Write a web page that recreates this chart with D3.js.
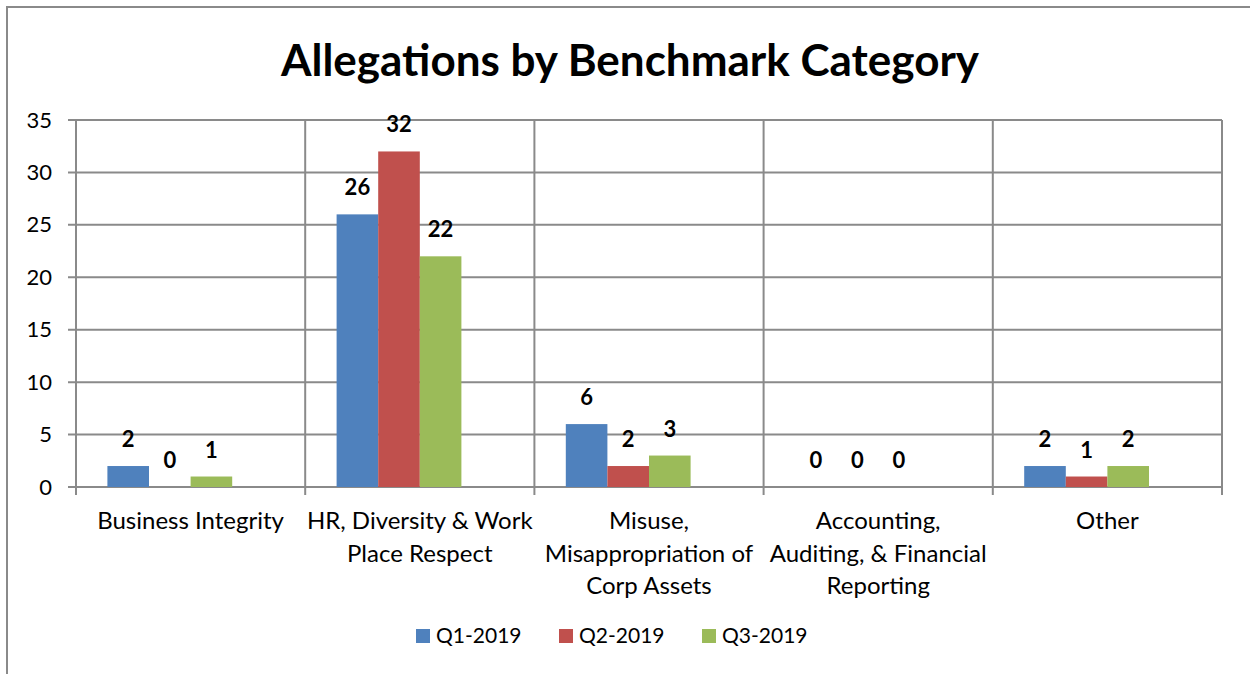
<!DOCTYPE html>
<html>
<head>
<meta charset="utf-8">
<title>Allegations by Benchmark Category</title>
<script src="https://cdn.jsdelivr.net/npm/d3@7"></script>
<style>
  body { margin: 0; background: #fff; }
  svg text { font-family: Lato, "Open Sans", sans-serif; fill: #000; }
</style>
</head>
<body>
<svg id="chart" width="1250" height="674"></svg>
<script>
// data
var categories = ['Business Integrity', 'HR, Diversity & Work Place Respect',
  'Misuse, Misappropriation of Corp Assets', 'Accounting, Auditing, & Financial Reporting', 'Other'];
var categoryLines = [
  ['Business Integrity'],
  ['HR, Diversity & Work', 'Place Respect'],
  ['Misuse,', 'Misappropriation of', 'Corp Assets'],
  ['Accounting,', 'Auditing, & Financial', 'Reporting'],
  ['Other']
];
var seriesNames = ['Q1-2019', 'Q2-2019', 'Q3-2019'];
var q1 = [2, 26, 6, 0, 2];
var q2 = [0, 32, 2, 0, 1];
var q3 = [1, 22, 3, 0, 2];
var yTicks = [0, 5, 10, 15, 20, 25, 30, 35];
var colors = ['#4f81bd', '#c0504d', '#9bbb59'];

var values = [q1, q2, q3];

var svg = d3.select('#chart');
var margin = { top: 120, right: 28, bottom: 187, left: 76 };
var width = 1250 - margin.left - margin.right,
    height = 674 - margin.top - margin.bottom;

// outer frame (top and left edges visible)
svg.append('path')
  .attr('d', 'M7,674 L7,7 L1250,7')
  .attr('fill', 'none')
  .attr('stroke', '#8a8a8a')
  .attr('stroke-width', 2);

svg.append('text')
  .attr('x', 630)
  .attr('y', 76)
  .attr('text-anchor', 'middle')
  .style('font-size', '44px')
  .style('font-weight', 'bold')
  .text('Allegations by Benchmark Category');

var g = svg.append('g').attr('transform', 'translate(' + margin.left + ',' + margin.top + ')');

var x0 = d3.scaleBand().domain(d3.range(categories.length)).range([0, width]);
// four slots per group: the chart keeps room for an empty fourth quarter
var x1 = d3.scaleBand().domain(d3.range(4))
  .range([x0.bandwidth() * 0.137, x0.bandwidth() * 0.863]);
var y = d3.scaleLinear().domain([0, 35]).range([height, 0]);

// horizontal gridlines
g.append('g')
  .selectAll('line')
  .data(yTicks)
  .join('line')
  .attr('x1', -8)
  .attr('x2', width)
  .attr('y1', function(d) { return y(d); })
  .attr('y2', function(d) { return y(d); })
  .attr('stroke', '#8a8a8a')
  .attr('stroke-width', 2);

// vertical gridlines / category separators
g.append('g')
  .selectAll('line')
  .data(d3.range(categories.length + 1))
  .join('line')
  .attr('x1', function(d) { return d * x0.bandwidth(); })
  .attr('x2', function(d) { return d * x0.bandwidth(); })
  .attr('y1', 0)
  .attr('y2', height + 8)
  .attr('stroke', '#8a8a8a')
  .attr('stroke-width', 2);

// y axis labels
var yAxis = g.append('g')
  .call(d3.axisLeft(y).tickValues(yTicks).tickSize(0).tickPadding(24));
yAxis.select('.domain').remove();
yAxis.selectAll('text')
  .style('font-size', '22px')
  .style('font-family', 'Lato, "Open Sans", sans-serif')
  .attr('fill', '#000');

// bars
var groups = g.append('g')
  .selectAll('g')
  .data(categories)
  .join('g')
  .attr('transform', function(d, i) { return 'translate(' + x0(i) + ',0)'; });

groups.selectAll('rect')
  .data(function(d, i) { return values.map(function(s, k) { return { k: k, v: s[i] }; }); })
  .join('rect')
  .attr('x', function(d) { return x1(d.k); })
  .attr('width', x1.bandwidth())
  .attr('y', function(d) { return y(d.v); })
  .attr('height', function(d) { return height - y(d.v); })
  .attr('fill', function(d) { return colors[d.k]; });

groups.selectAll('text')
  .data(function(d, i) { return values.map(function(s, k) { return { k: k, v: s[i] }; }); })
  .join('text')
  .attr('x', function(d) { return x1(d.k) + x1.bandwidth() / 2; })
  .attr('y', function(d) { return y(d.v) - 19; })
  .attr('text-anchor', 'middle')
  .style('font-size', '22px')
  .style('font-weight', 'bold')
  .text(function(d) { return d.v; });

// category labels
var catLabels = g.append('g')
  .selectAll('text')
  .data(categoryLines)
  .join('text')
  .attr('text-anchor', 'middle')
  .attr('x', function(d, i) { return x0(i) + x0.bandwidth() / 2; })
  .attr('y', height + 42)
  .style('font-size', '24px');

catLabels.selectAll('tspan')
  .data(function(d) { return d; })
  .join('tspan')
  .attr('x', function() { return this.parentNode.getAttribute('x'); })
  .attr('dy', function(d, i) { return i === 0 ? 0 : 32.5; })
  .text(function(d) { return d; });

// legend
var legend = svg.append('g')
  .selectAll('g')
  .data(seriesNames)
  .join('g')
  .attr('transform', function(d, i) { return 'translate(' + (416 + i * 143) + ',629)'; });

legend.append('rect')
  .attr('width', 14)
  .attr('height', 14)
  .attr('fill', function(d, i) { return colors[i]; });

legend.append('text')
  .attr('x', 20)
  .attr('y', 14)
  .style('font-size', '21px')
  .text(function(d) { return d; });
</script>
</body>
</html>
